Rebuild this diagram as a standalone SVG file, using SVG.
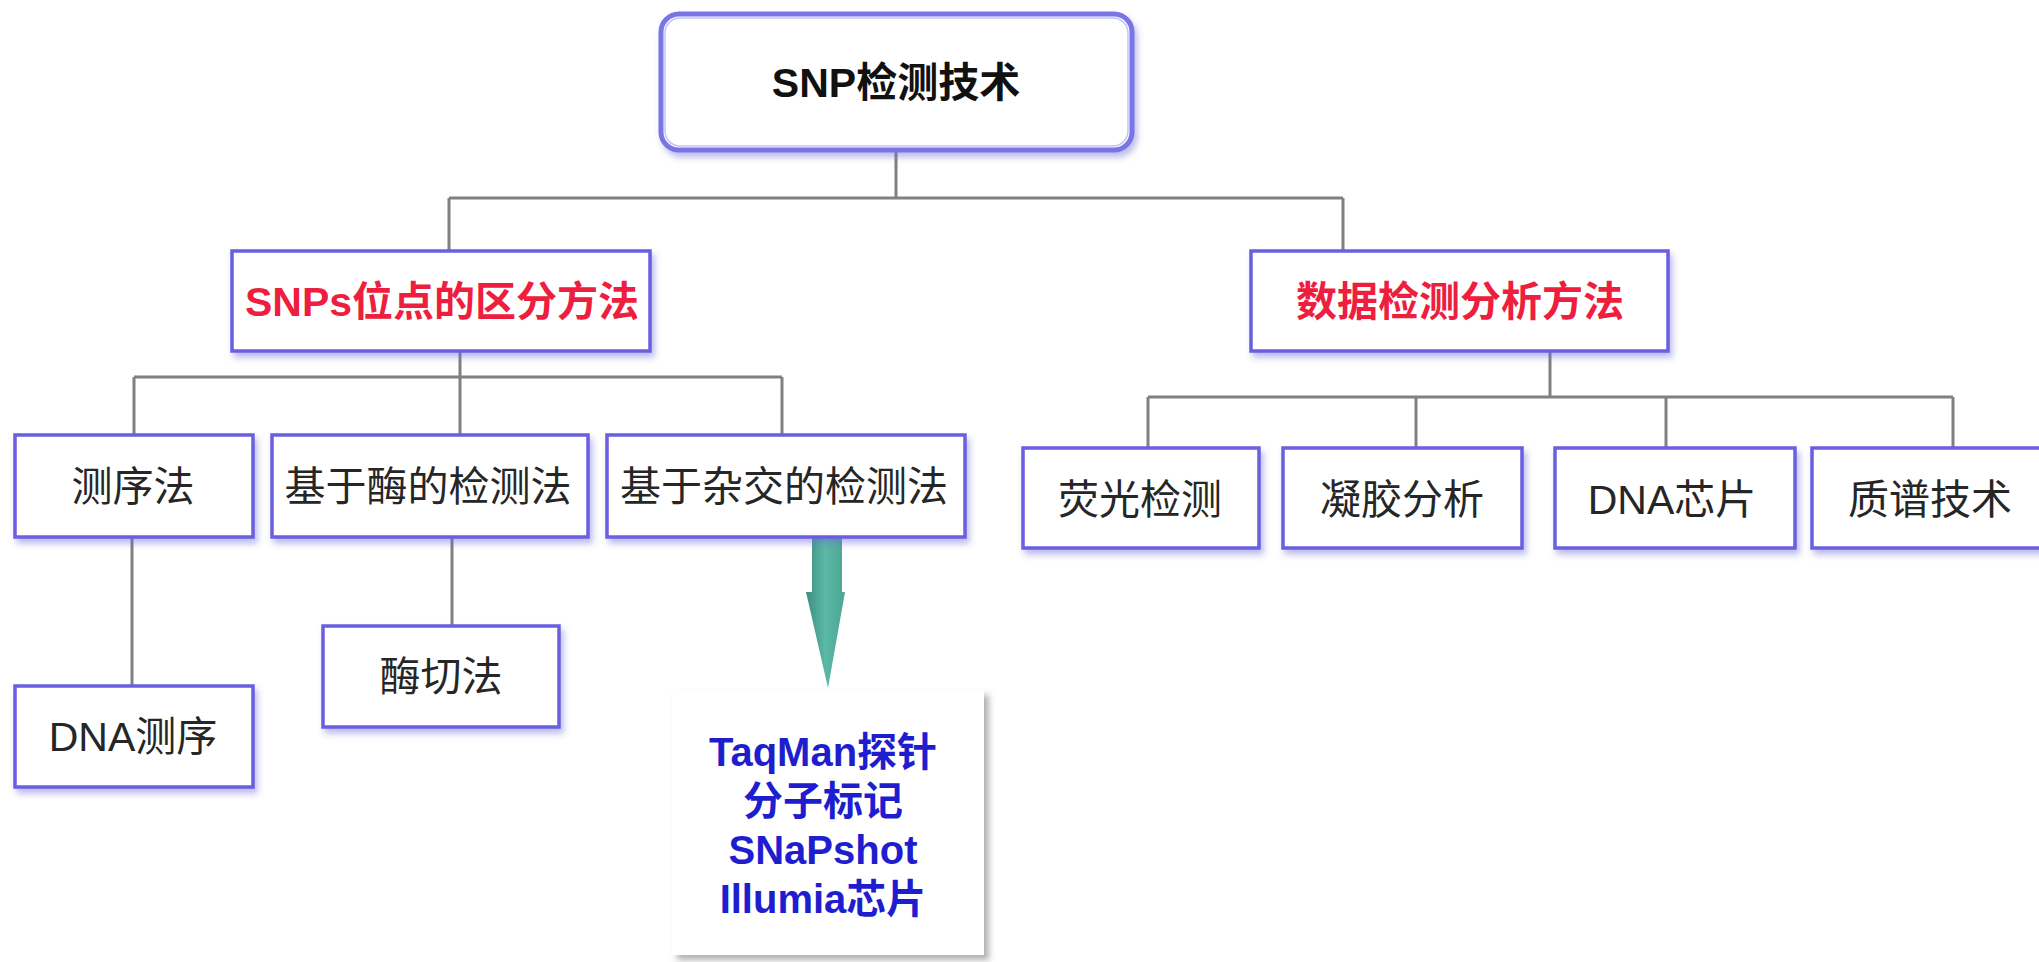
<svg xmlns="http://www.w3.org/2000/svg" width="2039" height="962" viewBox="0 0 2039 962">
<defs>
<filter id="sh" x="-10%" y="-20%" width="120%" height="150%">
<feDropShadow dx="3" dy="5" stdDeviation="3" flood-color="#6a6ad8" flood-opacity="0.45"/>
</filter>
<filter id="sh2" x="-10%" y="-10%" width="125%" height="125%">
<feDropShadow dx="5" dy="5" stdDeviation="3" flood-color="#707070" flood-opacity="0.55"/>
</filter>
<linearGradient id="ag" x1="0" y1="0" x2="1" y2="0">
<stop offset="0" stop-color="#3d8f80"/>
<stop offset="0.5" stop-color="#5cb8a6"/>
<stop offset="1" stop-color="#4aa492"/>
</linearGradient>
</defs>
<style>
.box{fill:#fff;stroke:#6a5fe0;stroke-width:3.5;filter:url(#sh)}
.t{font-family:"Liberation Sans","Noto Sans CJK SC",sans-serif;font-size:41px;text-anchor:middle}
.n{fill:#262626}
.b{font-weight:bold}
.red{fill:#ee1e3e}
.blue{fill:#1e1ecf;font-size:40px}
.c{stroke:#808080;stroke-width:3;fill:none}
</style>
<rect width="2039" height="962" fill="#fff"/>
<g id="connectors">
<path class="c" d="M896 150V198M449 198H1343M449 198V251M1343 198V251"/>
<path class="c" d="M460 351V435M134 377H782M134 377V435M782 377V435"/>
<path class="c" d="M1550 351V397M1148 397H1953M1148 397V448M1416 397V448M1666 397V448M1953 397V448"/>
<path class="c" d="M132 537V686M452 537V626"/>
<polygon points="812,538 842,538 842,592 845,592 828,688 806,592 812,592" fill="url(#ag)"/>
</g>
<g id="root">
<rect x="661" y="14" width="471" height="136" rx="18" fill="#fff" stroke="#7a74e4" stroke-width="5" filter="url(#sh)"/>
<rect x="665" y="18" width="463" height="128" rx="15" fill="none" stroke="#c4c4f4" stroke-width="1.5"/>
<text class="t b" x="896" y="97" fill="#111">SNP检测技术</text>
</g>
<g id="mid-left">
<rect class="box" x="232" y="251" width="418" height="100"/>
<text class="t b red" x="442" y="316">SNPs位点的区分方法</text>
</g>
<g id="mid-right">
<rect class="box" x="1251" y="251" width="417" height="100"/>
<text class="t b red" x="1460" y="316">数据检测分析方法</text>
</g>
<g id="n-cexu">
<rect class="box" x="15" y="435" width="238" height="102"/>
<text class="t n" x="133" y="501">测序法</text>
</g>
<g id="n-mei">
<rect class="box" x="272" y="435" width="316" height="102"/>
<text class="t n" x="428" y="501">基于酶的检测法</text>
</g>
<g id="n-zajiao">
<rect class="box" x="607" y="435" width="358" height="102"/>
<text class="t n" x="784" y="501">基于杂交的检测法</text>
</g>
<g id="n-dnacexu">
<rect class="box" x="15" y="686" width="238" height="101"/>
<text class="t n" x="133" y="751">DNA测序</text>
</g>
<g id="n-meiqie">
<rect class="box" x="323" y="626" width="236" height="101"/>
<text class="t n" x="441" y="691">酶切法</text>
</g>
<g id="n-probes">
<rect x="672" y="690" width="312" height="265" fill="#fff" filter="url(#sh2)"/>
<text class="t b blue" x="823" y="766">TaqMan探针</text>
<text class="t b blue" x="823" y="815">分子标记</text>
<text class="t b blue" x="823" y="864">SNaPshot</text>
<text class="t b blue" x="823" y="913">Illumia芯片</text>
</g>
<g id="n-yingguang">
<rect class="box" x="1023" y="448" width="236" height="100"/>
<text class="t n" x="1140" y="514">荧光检测</text>
</g>
<g id="n-ningjiao">
<rect class="box" x="1283" y="448" width="239" height="100"/>
<text class="t n" x="1402" y="514">凝胶分析</text>
</g>
<g id="n-dnachip">
<rect class="box" x="1555" y="448" width="240" height="100"/>
<text class="t n" x="1672" y="514">DNA芯片</text>
</g>
<g id="n-zhipu">
<rect class="box" x="1812" y="448" width="240" height="100"/>
<text class="t n" x="1930" y="514">质谱技术</text>
</g>
</svg>
